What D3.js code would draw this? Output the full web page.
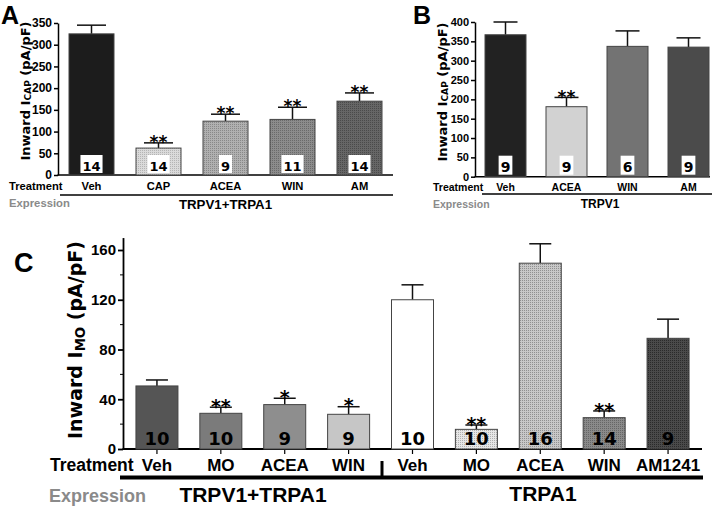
<!DOCTYPE html>
<html><head><meta charset="utf-8">
<script src="https://cdn.jsdelivr.net/npm/d3@7"></script>
<style>body{margin:0;background:#fff} svg{display:block}</style>
</head><body>
<svg id="c" width="720" height="508"></svg>
<script>
// ---------- DATA ----------
const catsA  = ["Veh","CAP","ACEA","WIN","AM"];
const meanA  = [325, 62, 124, 128, 170];
const errA   = [20, 12, 16, 28, 19];
const nA     = [14, 14, 9, 11, 14];
const sigA   = ["", "**", "**", "**", "**"];
const ticksA = [0,50,100,150,200,250,300,350];

const catsB  = ["Veh","ACEA","WIN","AM"];
const meanB  = [367, 181, 337, 335];
const errB   = [33, 24, 40, 24];
const nB     = [9, 9, 6, 9];
const sigB   = ["", "**", "", ""];
const ticksB = [0,50,100,150,200,250,300,350,400];

const catsC  = ["Veh","MO","ACEA","WIN","Veh","MO","ACEA","WIN","AM1241"];
const meanC  = [50.7, 28.7, 35.7, 27.9, 120, 15.8, 149.4, 25.2, 89];
const errC   = [4.8, 4.9, 5.1, 6.1, 12, 3.5, 15.6, 5.4, 15.4];
const nC     = [10, 10, 9, 9, 10, 10, 16, 14, 9];
const sigC   = ["", "**", "*", "*", "", "**", "", "**", ""];
const ticksC = [0,40,80,120,160];
const minorC = [20,60,100,140];

// ---------- STYLE ----------
const FS = "'Liberation Sans', Arial, sans-serif";
const FV = "'DejaVu Sans', Verdana, sans-serif";
const svg = d3.select("#c");
const defs = svg.append("defs");
function pat(id, base, dot) {
  const p = defs.append("pattern").attr("id", id).attr("width", 2).attr("height", 2)
    .attr("patternUnits", "userSpaceOnUse");
  p.append("rect").attr("width", 2).attr("height", 2).attr("fill", base);
  p.append("rect").attr("width", 1).attr("height", 1).attr("fill", dot);
  return `url(#${id})`;
}
const fillA = ["#1c1c1c", pat("pa1","#dadada","#b4b4b4"), pat("pa2","#b0b0b0","#888"),
               pat("pa3","#8c8c8c","#6a6a6a"), pat("pa4","#666","#4a4a4a")];
const fillB = ["#222", "#d2d2d2", "#737373", "#4b4b4b"];
const fillC = ["#555", "#7b7b7b", "#8e8e8e", "#c6c6c6", "#ffffff",
               pat("pc1","#e6e6e6","#b0b0b0"), pat("pc2","#c8c8c8","#909090"),
               pat("pc3","#8a8a8a","#666"), pat("pc4","#4a4a4a","#2a2a2a")];

function txt(x, y, s, size, opt = {}) {
  return svg.append("text").attr("x", x).attr("y", y).text(s)
    .attr("font-family", opt.family || FS).attr("font-weight", opt.weight || "bold")
    .attr("font-size", size).attr("fill", opt.fill || "#000")
    .attr("text-anchor", opt.anchor || "start");
}
function ylabel(x, yc, size, sub) {
  const t = svg.append("text").attr("transform", `translate(${x},${yc}) rotate(-90)`)
    .attr("text-anchor", "middle").attr("dominant-baseline", "central")
    .attr("font-family", FV).attr("font-weight", "bold").attr("font-size", size);
  t.append("tspan").text("Inward I");
  t.append("tspan").attr("font-size", size * 0.7).attr("dy", size * 0.25).text(sub);
  t.append("tspan").attr("dy", -size * 0.25).text(" (pA/pF)");
}

function panel(o) {
  const x = d3.scaleBand().domain(d3.range(o.cats.length)).range(o.xr);
  const y = d3.scaleLinear().domain(o.yd).range(o.yr);
  const base = y(0);
  const ax = svg.append("g").attr("transform", `translate(${o.ax},0)`)
    .call(d3.axisLeft(y).tickValues(o.ticks).tickSize(o.tick).tickSizeOuter(0).tickPadding(2));
  ax.selectAll("text").attr("font-family", FS).attr("font-weight", "bold")
    .attr("font-size", o.tfs).attr("fill", "#000");
  ax.selectAll("line,path").attr("stroke", "#000").attr("stroke-width", o.lw);
  if (o.minor) {
    o.minor.forEach(v => svg.append("line").attr("x1", o.ax - 3).attr("x2", o.ax)
      .attr("y1", y(v)).attr("y2", y(v)).attr("stroke", "#000").attr("stroke-width", 1));
  }
  svg.append("line").attr("x1", o.ax - 0.5).attr("x2", o.axEnd).attr("y1", base).attr("y2", base)
    .attr("stroke", "#000").attr("stroke-width", o.lw);
  const step = x.bandwidth();
  o.cats.forEach((c, i) => {
    const cx = x(i) + step / 2;
    const top = y(o.means[i]), et = y(o.means[i] + o.errs[i]);
    if (o.xticks) svg.append("line").attr("x1", cx).attr("x2", cx).attr("y1", base).attr("y2", base + 5)
      .attr("stroke", "#000").attr("stroke-width", 1.2);
    svg.append("line").attr("x1", cx).attr("x2", cx).attr("y1", top).attr("y2", et)
      .attr("stroke", "#111").attr("stroke-width", 1.5);
    svg.append("line").attr("x1", cx - o.cap / 2).attr("x2", cx + o.cap / 2).attr("y1", et).attr("y2", et)
      .attr("stroke", "#111").attr("stroke-width", 1.5);
    svg.append("rect").attr("x", cx - o.bw / 2).attr("width", o.bw).attr("y", top).attr("height", base - top)
      .attr("fill", o.fills[i]).attr("stroke", "#444").attr("stroke-width", 1);
    if (o.sigs[i]) txt(cx, et + o.sfs * 0.3, o.sigs[i], o.sfs, { family: FV, anchor: "middle" });
    if (o.box) {
      const t = txt(cx, base - o.nOff, o.ns[i], o.nfs, { family: FV, anchor: "middle" });
      const w = t.node().getComputedTextLength() + 4;
      svg.insert("rect", () => t.node()).attr("x", cx - w / 2).attr("width", w)
        .attr("y", base - o.boxH - 2).attr("height", o.boxH).attr("fill", "#fff");
    } else {
      txt(cx, base - o.nOff, o.ns[i], o.nfs, { family: FV, anchor: "middle" });
    }
    txt(cx, o.labY, c, o.lfs, { anchor: "middle" });
  });
  return x;
}

// ---------- PANEL A ----------
panel({ cats: catsA, means: meanA, errs: errA, ns: nA, sigs: sigA, fills: fillA,
  xr: [58, 393], yd: [0, 350], yr: [175, 23], ax: 58, axEnd: 393, ticks: ticksA, tick: 4,
  tfs: 12, lw: 1.5, bw: 45, cap: 29, sfs: 17, box: true, nfs: 13, nOff: 4, boxH: 18,
  labY: 190, lfs: 11.2 });
txt(9, 190, "Treatment", 11.2);
svg.append("line").attr("x1", 60).attr("x2", 393).attr("y1", 195).attr("y2", 195).attr("stroke", "#000").attr("stroke-width", 1.5);
txt(9, 207, "Expression", 11.3, { fill: "#8a8a8a" });
txt(225.5, 209, "TRPV1+TRPA1", 13.3, { anchor: "middle" });
txt(1, 24, "A", 25);
ylabel(25, 91, 13, "CAP");

// ---------- PANEL B ----------
panel({ cats: catsB, means: meanB, errs: errB, ns: nB, sigs: sigB, fills: fillB,
  xr: [475, 719], yd: [0, 400], yr: [176.7, 22], ax: 475, axEnd: 710, ticks: ticksB, tick: 4,
  tfs: 11, lw: 1.5, bw: 41, cap: 24, sfs: 17, box: true, nfs: 14, nOff: 5, boxH: 19,
  labY: 191, lfs: 10.5 });
txt(433, 191, "Treatment", 10.5);
svg.append("line").attr("x1", 482).attr("x2", 712).attr("y1", 194).attr("y2", 194).attr("stroke", "#000").attr("stroke-width", 1.5);
txt(433, 208, "Expression", 10.5, { fill: "#8a8a8a" });
txt(600, 208, "TRPV1", 12, { anchor: "middle" });
txt(413, 24, "B", 25);
ylabel(442, 92, 13, "CAP");

// ---------- PANEL C ----------
panel({ cats: catsC, means: meanC, errs: errC, ns: nC, sigs: sigC, fills: fillC,
  xr: [125, 700], yd: [0, 170], yr: [449, 449 - 170 * 1.24375], ax: 123, axEnd: 702, ticks: ticksC, tick: 5,
  minor: minorC, tfs: 15, lw: 1.8, bw: 42, cap: 22, sfs: 19, box: false, nfs: 18, nOff: 4,
  labY: 471, lfs: 17, xticks: true });
txt(50, 471, "Treatment", 17.5);
svg.append("line").attr("x1", 382).attr("x2", 382).attr("y1", 461).attr("y2", 478).attr("stroke", "#000").attr("stroke-width", 3);
svg.append("line").attr("x1", 120).attr("x2", 703).attr("y1", 477.5).attr("y2", 477.5).attr("stroke", "#000").attr("stroke-width", 4);
txt(49, 502, "Expression", 18, { fill: "#8a8a8a" });
txt(253, 502, "TRPV1+TRPA1", 21, { anchor: "middle" });
txt(543, 501, "TRPA1", 21, { anchor: "middle" });
txt(14, 272, "C", 27);
ylabel(75, 340, 19, "MO");
</script>
</body></html>
